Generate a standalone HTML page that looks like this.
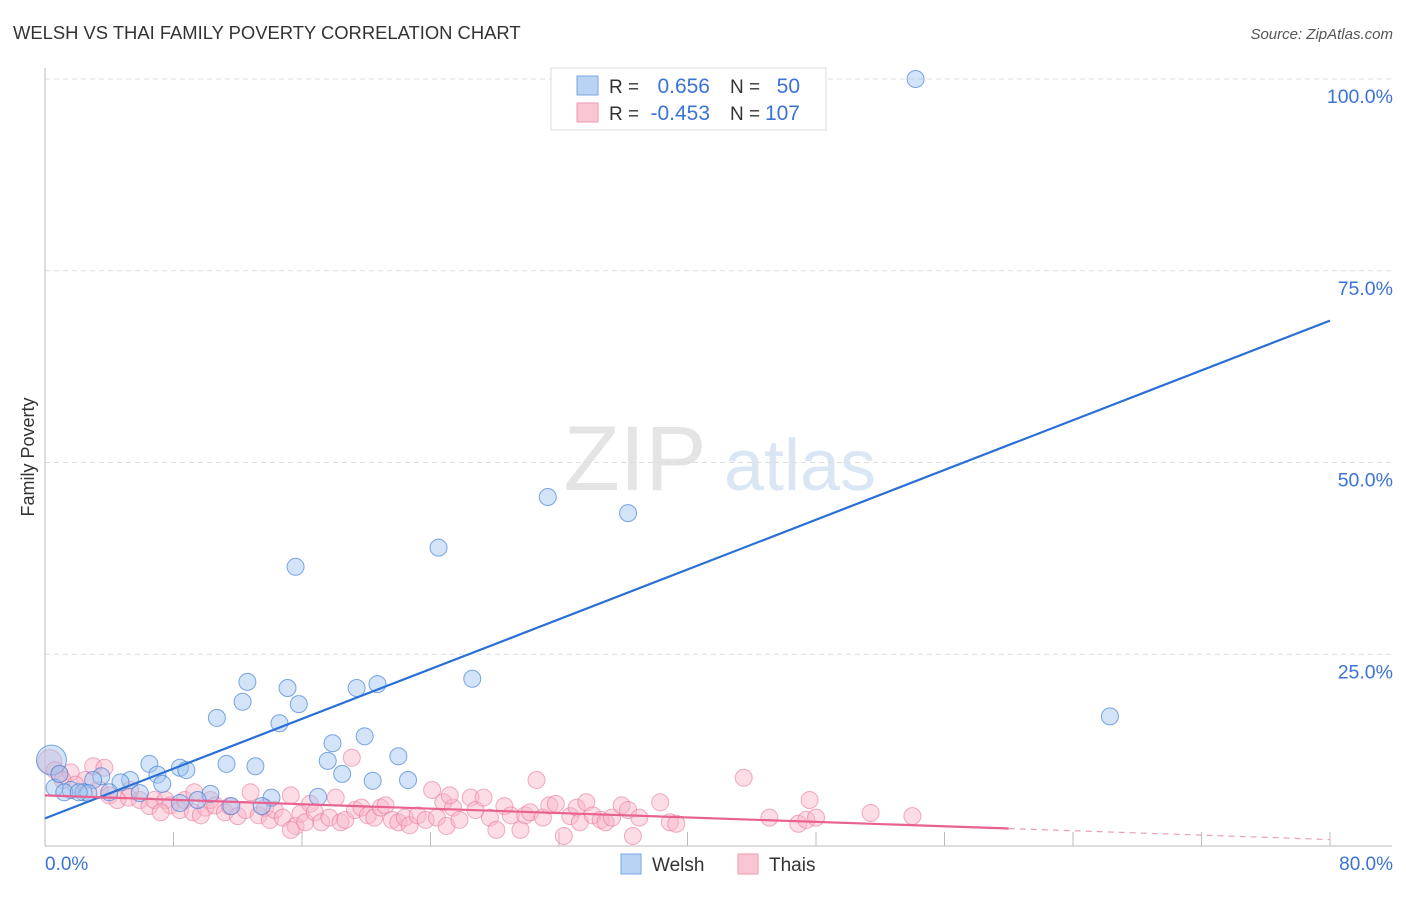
<!DOCTYPE html>
<html><head><meta charset="utf-8"><style>
body{margin:0;background:#fff;font-family:"Liberation Sans",sans-serif;}
svg text{font-family:"Liberation Sans",sans-serif;}
</style></head><body>
<svg id="chart" width="1406" height="892" xmlns="http://www.w3.org/2000/svg">
<text x="13" y="39" font-size="18.4" fill="#333">WELSH VS THAI FAMILY POVERTY CORRELATION CHART</text>
<text x="1393" y="39" font-size="15" fill="#555" font-style="italic" text-anchor="end">Source: ZipAtlas.com</text>
<text x="635" y="490" font-size="92" fill="#e4e4e4" font-family="Liberation Serif" text-anchor="middle">ZIP</text>
<text x="800" y="490" font-size="72" fill="#dbe6f5" text-anchor="middle">atlas</text>
<g id="grid"></g>
<g id="axes"></g>
<g id="pts"></g>
<g id="lines"></g>
<text transform="translate(34,457) rotate(-90)" font-size="18" fill="#333" text-anchor="middle">Family Poverty</text>
<g>
<rect x="551" y="68" width="275" height="62" fill="#fff" stroke="#ddd"/>
<rect x="577" y="76" width="21" height="19" fill="#b9d3f5" stroke="#7aa6e0"/>
<rect x="577" y="103" width="21" height="19" fill="#f9c6d4" stroke="#ee9ab2"/>
<text x="609" y="93" font-size="19" fill="#333">R =</text>
<text x="710" y="93" font-size="21" fill="#3b73d6" text-anchor="end">0.656</text>
<text x="730" y="93" font-size="19" fill="#333">N =</text>
<text x="800" y="93" font-size="21" fill="#3b73d6" text-anchor="end">50</text>
<text x="609" y="120" font-size="19" fill="#333">R =</text>
<text x="710" y="120" font-size="21" fill="#3b73d6" text-anchor="end">-0.453</text>
<text x="730" y="120" font-size="19" fill="#333">N =</text>
<text x="800" y="120" font-size="21" fill="#3b73d6" text-anchor="end">107</text>
</g>
<rect x="621" y="854" width="20" height="20" fill="#b9d3f5" stroke="#7aa6e0"/>
<text x="652" y="871" font-size="19" fill="#333">Welsh</text>
<rect x="738" y="854" width="20" height="20" fill="#f9c6d4" stroke="#ee9ab2"/>
<text x="769" y="871" font-size="19" fill="#333">Thais</text>
</svg>
<script>
const yTicks=[25,50,75,100];
const yTickLabels=["25.0%","50.0%","75.0%","100.0%"];
const xTickLabels=["0.0%","80.0%"];
const welshX=[54.2,31.3,36.3,24.5,15.6,26.6,66.3,12.6,15.1,19.4,20.7,12.3,15.8,10.7,14.6,19.9,17.9,22.0,17.6,6.5,11.3,13.1,8.4,8.8,18.5,7.0,20.4,22.6,3.5,5.3,4.7,3.0,7.3,1.6,0.6,1.2,2.4,2.7,5.9,10.3,9.5,14.1,17.0,13.5,11.6,8.4,0.4,0.9,2.1,4.0];
const welshY=[100.0,45.5,43.4,38.9,36.4,21.8,16.9,21.4,20.6,20.6,21.1,18.8,18.5,16.7,16.0,14.3,13.4,11.7,11.1,10.7,10.7,10.4,10.2,9.9,9.4,9.3,8.5,8.6,9.1,8.6,8.3,8.6,8.1,7.3,7.6,7.0,7.0,6.9,6.9,6.8,6.0,6.3,6.4,5.2,5.2,5.6,11.2,9.4,7.0,7.0];
const thaiX=[0.3,0.6,0.9,1.6,3.0,2.5,3.4,4.0,4.5,5.2,5.9,6.5,6.8,7.5,7.8,8.4,8.7,9.2,9.3,10.0,10.3,10.6,11.2,11.5,12.0,12.5,12.8,13.3,13.7,14.0,14.3,14.8,15.3,15.6,15.9,16.2,16.5,16.8,17.2,17.7,18.1,18.4,18.7,19.1,19.3,19.7,20.1,20.5,20.9,21.2,21.6,22.0,22.4,22.7,23.2,23.7,24.1,24.4,24.8,25.0,25.4,25.8,26.5,26.8,27.3,27.7,28.1,28.6,29.0,29.6,29.9,30.2,30.6,31.0,31.4,31.8,32.3,32.7,33.1,33.3,33.7,34.1,34.6,34.9,35.3,35.9,36.3,36.6,37.0,38.3,38.9,39.3,43.5,45.1,46.9,47.4,47.6,48.0,51.4,54.0,1.1,1.9,3.7,5.3,7.2,9.7,15.3,25.2];
const thaiY=[11.0,9.9,9.3,9.6,10.4,8.6,7.3,6.6,6.0,6.3,6.0,5.2,6.0,6.0,5.3,4.7,6.0,4.4,7.0,5.0,6.0,5.3,4.4,5.2,3.9,4.7,7.0,4.0,5.0,3.4,4.7,3.7,6.6,2.6,4.2,3.1,5.5,4.4,3.1,3.7,6.3,3.1,3.4,11.5,4.7,5.0,4.0,3.7,5.0,5.3,3.4,3.1,3.7,2.7,4.0,3.4,7.3,3.7,5.7,2.6,5.0,3.4,6.3,4.7,6.3,3.7,2.1,5.2,4.0,2.1,4.0,4.4,8.6,3.7,5.3,5.5,1.3,3.9,5.0,3.1,5.7,4.0,3.4,3.1,3.7,5.3,4.7,1.3,3.7,5.7,3.1,2.9,8.9,3.7,2.9,3.4,6.0,3.7,4.3,3.9,8.6,8.0,10.2,7.3,4.4,4.0,2.1,6.6];
const welshFit=[3.6,68.5];
const thaiFit=[6.6,0.84];
const thaiSolidEnd=60;

const X0=45,X1=1330,Y0=846,Y100=79;
const sx=v=>X0+(X1-X0)*v/80;
const sy=v=>Y0-(Y0-Y100)*v/100;
const NS="http://www.w3.org/2000/svg";
function mk(parent,tag,attrs){const e=document.createElementNS(NS,tag);for(const k in attrs)e.setAttribute(k,attrs[k]);document.getElementById(parent).appendChild(e);return e;}

yTicks.forEach((t,i)=>{
  const g=mk('grid','line',{x1:X0,x2:1392,y1:sy(t),y2:sy(t),stroke:'#ddd','stroke-dasharray':'5,4'});
  
  
  const l=mk('axes','text',{x:1393,y:sy(t)+24,'font-size':19.5,fill:'#3b73d6','text-anchor':'end'});
  l.textContent=yTickLabels[i];
  
  
});
const ya=mk('axes','line',{x1:X0,x2:X0,y1:68,y2:Y0,stroke:'#bbb'});


const xa=mk('axes','line',{x1:X0,x2:1392,y1:Y0,y2:Y0,stroke:'#bbb'});


for(let v=8;v<=80;v+=8){
  const t=mk('axes','line',{x1:sx(v),x2:sx(v),y1:Y0,y2:Y0-14,stroke:'#bbb'});
  
  
}
[0,80].forEach((v,i)=>{
  const l=mk('axes','text',{x:i?1393:45,y:870,'font-size':19,fill:'#3b73d6','text-anchor':i?'end':'start'});
  l.textContent=xTickLabels[i];
  
  
});
thaiX.forEach((x,i)=>{
  const c=mk('pts','circle',{cx:sx(x),cy:sy(thaiY[i]),r:i===0?12:8.5,fill:'rgba(248,180,200,0.45)',stroke:'rgba(232,120,155,0.6)','stroke-width':1});
  
  
});
welshX.forEach((x,i)=>{
  const c=mk('pts','circle',{cx:sx(x),cy:sy(welshY[i]),r:i===46?15:8.5,fill:'rgba(160,196,240,0.45)',stroke:'rgba(70,130,215,0.7)','stroke-width':1});
  
  
});
const wl=mk('lines','line',{x1:sx(0),y1:sy(welshFit[0]),x2:sx(80),y2:sy(welshFit[1]),stroke:'#2a6fd6','stroke-width':2.2});


const tAt=x=>thaiFit[0]+(thaiFit[1]-thaiFit[0])*x/80;
const tl=mk('lines','line',{x1:sx(0),y1:sy(tAt(0)),x2:sx(thaiSolidEnd),y2:sy(tAt(thaiSolidEnd)),stroke:'#e8628f','stroke-width':2.2});


const td=mk('lines','line',{x1:sx(thaiSolidEnd),y1:sy(tAt(thaiSolidEnd)),x2:sx(80),y2:sy(tAt(80)),stroke:'#e8a0b8','stroke-width':1.2,'stroke-dasharray':'6,5'});


</script>
</body></html>
